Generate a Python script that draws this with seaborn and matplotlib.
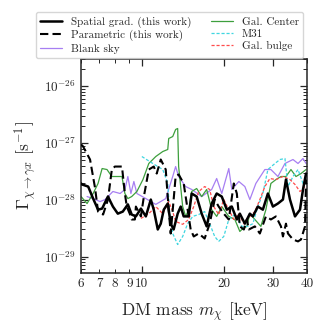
import numpy as np
import pandas as pd
import seaborn as sns
import matplotlib
matplotlib.use("Agg")
import matplotlib.pyplot as plt
from matplotlib.ticker import FixedLocator, FuncFormatter, NullFormatter


sns.set_style("ticks")
plt.rcParams['font.family'] = ['cmr10', 'DejaVu Serif']
plt.rcParams['mathtext.fontset'] = 'cm'
plt.rcParams['axes.formatter.use_mathtext'] = True
plt.rcParams['axes.unicode_minus'] = False

# DM mass [keV] and decay rate in units of 1e-28 s^-1
m_spatial = [6.00, 6.05, 6.37, 6.64, 6.92, 7.16, 7.52, 7.84, 8.17, 8.52, 8.89,
             9.18, 9.51, 9.92, 10.34, 10.78, 11.05, 11.43, 11.72, 12.02, 12.43,
             12.74, 13.06, 13.51, 13.86, 14.21, 14.82, 15.2, 15.85, 16.53,
             17.24, 17.98, 18.75, 19.57, 20.42, 21.29, 22.21, 22.78, 23.76,
             24.78, 25.41, 26.50, 27.64, 28.83, 30.08, 31.37, 32.72, 33.56,
             34.71, 36.21, 37.76, 38.73, 39.72]
g_spatial = [1.94, 1.86, 1.71, 1.05, 0.67, 0.70, 1.14, 0.76, 0.57, 0.62, 0.83,
             0.55, 0.51, 0.70, 0.51, 1.01, 0.67, 0.30, 0.38, 0.67, 0.86, 0.38,
             0.30, 0.57, 0.76, 0.51, 0.51, 1.29, 1.14, 0.57, 0.34, 0.86, 1.29,
             1.14, 0.67, 0.76, 0.45, 0.57, 0.38, 0.57, 0.51, 0.76, 0.67, 1.29,
             0.76, 0.86, 1.01, 2.27, 1.01, 0.51, 0.67, 1.52, 2.90]

m_param = [6.00, 6.10, 6.47, 6.75, 6.92, 7.22, 7.52, 7.77, 7.97, 8.46, 8.67,
           8.81, 9.03, 9.18, 9.43, 9.51, 9.92, 10.17, 10.6, 11.05, 11.33,
           11.72, 12.22, 12.53, 12.74, 13.06, 13.28, 13.62, 14.21, 14.69,
           15.07, 15.46, 16.12, 16.95, 17.68, 18.44, 19.07, 19.90, 20.76,
           21.65, 22.21, 22.78, 23.56, 24.16, 24.57, 25.84, 26.95, 28.35,
           29.57, 30.85, 32.18, 32.72, 33.56, 34.13, 35.6, 37.13, 38.08,
           39.39, 39.72]
g_param = [9.44, 8.71, 5.12, 1.60, 0.62, 0.55, 1.01, 3.41, 3.85, 3.85, 1.29,
           0.76, 0.57, 0.45, 0.45, 0.76, 0.51, 1.14, 3.41, 3.85, 2.90, 5.12,
           3.41, 0.67, 0.255, 1.01, 2.57, 2.79, 1.94, 0.67, 0.30, 0.226,
           0.255, 0.208, 0.38, 1.01, 0.76, 0.57, 0.45, 1.94, 1.29, 0.34, 0.30,
           0.45, 0.30, 0.34, 0.255, 0.51, 0.45, 0.51, 0.34, 0.226, 0.38, 0.255,
           0.20, 0.185, 0.20, 0.34, 2.27]

m_blank = [6.31, 6.64, 7.04, 7.34, 7.84, 8.33, 8.67, 8.89, 9.12, 9.35, 9.59,
           10.34, 11.24, 12.22, 12.96, 13.28, 13.62, 14.45, 15.2, 16.53, 17.98,
           18.75, 19.57, 20.76, 21.29, 22.59, 23.76, 24.78, 26.06, 28.11,
           29.57, 31.37, 33.28, 35.6, 37.13, 38.73, 39.72]
g_blank = [1.14, 1.05, 0.93, 1.01, 1.40, 1.29, 1.52, 2.57, 1.29, 2.10, 1.29,
           1.05, 0.83, 1.05, 2.57, 3.85, 2.57, 1.71, 1.52, 1.14, 1.52, 2.37,
           1.29, 3.55, 1.52, 2.10, 1.71, 1.01, 1.94, 3.41, 3.41, 2.57, 4.36,
           5.12, 4.36, 5.33, 4.36]

m_gc = [6.00, 6.31, 6.64, 6.92, 7.16, 7.46, 7.77, 8.46, 8.67, 8.89, 9.18,
        9.59, 10.09, 10.6, 11.24, 11.92, 12.43, 12.53, 12.96, 13.28, 13.51,
        13.62, 14.09, 14.45, 14.82, 15.2, 15.85, 16.53, 17.24, 17.98, 18.75,
        19.57, 20.76, 21.84, 22.78, 23.17, 24.16, 24.78, 25.84, 27.18, 28.35,
        29.57, 30.85, 32.18, 33.56, 35.0, 36.51, 38.08, 39.72]
g_gc = [1.14, 0.86, 1.29, 1.94, 3.55, 3.41, 2.57, 2.57, 1.29, 1.05, 1.14,
        1.40, 2.27, 4.36, 5.78, 7.08, 7.69, 12.0, 13.0, 17.3, 18.0, 3.85,
        0.76, 0.51, 0.67, 1.40, 1.58, 1.14, 1.52, 0.67, 0.51, 0.76, 0.51,
        0.45, 0.277, 0.30, 0.34, 0.57, 0.45, 0.34, 0.67, 1.94, 2.27, 2.57,
        2.57, 3.41, 2.57, 2.90, 3.41]

m_m31 = [10.0, 10.96, 11.92, 12.43, 12.64, 12.96, 13.51, 14.09, 14.69, 15.33,
         16.12, 16.95, 17.68, 18.44, 19.07, 19.90, 20.76, 21.84, 23.17, 24.37,
         25.41, 26.50, 27.64, 28.83, 30.59, 31.91, 33.28, 34.13, 35.6, 37.13,
         38.73, 39.72]
g_m31 = [5.78, 4.36, 3.41, 1.94, 0.57, 0.255, 0.163, 0.226, 0.38, 0.51, 0.55,
         0.62, 0.38, 0.226, 0.185, 0.226, 0.45, 0.55, 0.34, 0.34, 0.38, 0.76,
         1.29, 3.41, 4.36, 5.12, 5.33, 1.71, 2.57, 3.41, 1.94, 2.27]

m_bulge = [9.92, 10.6, 11.24, 11.92, 12.53, 12.96, 13.28, 14.09, 14.82, 15.46,
           16.12, 16.95, 17.68, 18.29, 19.07, 19.90, 20.76, 21.65, 22.59,
           23.56, 24.78, 25.84, 26.95, 28.11, 29.32, 30.85, 32.72, 34.71,
           36.21, 37.76, 39.39]
g_bulge = [0.47, 0.57, 0.76, 0.57, 0.93, 0.62, 0.415, 0.37, 0.45, 0.76, 1.40,
           1.71, 1.52, 0.76, 0.55, 1.01, 0.67, 0.45, 0.57, 0.38, 0.51, 0.62,
           1.01, 1.71, 2.37, 2.27, 2.57, 2.27, 1.86, 1.40, 1.71]

x_major = [10, 20, 30]
x_minor = [6, 7, 8, 9, 40]
y_major = [1e-29, 1e-28, 1e-27, 1e-26]


def to_df(m, g):
    return pd.DataFrame({"m": m, "gamma": np.array(g) * 1e-28})


fig = plt.figure(figsize=(3.23, 3.34), dpi=100)
ax = fig.add_axes([0.251, 0.1835, 0.699, 0.6395])

sns.lineplot(data=to_df(m_spatial, g_spatial), x="m", y="gamma", ax=ax,
             color="black", lw=1.8, label="Spatial grad. (this work)", zorder=5)
sns.lineplot(data=to_df(m_param, g_param), x="m", y="gamma", ax=ax,
             color="black", lw=1.5, label="Parametric (this work)", zorder=5)
sns.lineplot(data=to_df(m_blank, g_blank), x="m", y="gamma", ax=ax,
             color="#a77ff2", lw=0.9, label="Blank sky")
sns.lineplot(data=to_df(m_gc, g_gc), x="m", y="gamma", ax=ax,
             color="#3d9f3d", lw=0.9, label="Gal. Center")
sns.lineplot(data=to_df(m_m31, g_m31), x="m", y="gamma", ax=ax,
             color="#3fd6e0", lw=0.9, label="M31")
sns.lineplot(data=to_df(m_bulge, g_bulge), x="m", y="gamma", ax=ax,
             color="#ff4b4b", lw=0.9, label="Gal. bulge")

lines = ax.get_lines()
lines[1].set_dashes([4, 2])
lines[4].set_dashes([2.5, 1.5])
lines[5].set_dashes([2.5, 1.5])

ax.set_xscale("log")
ax.set_yscale("log")
ax.set_xlim(6, 40)
ax.set_ylim(5.2e-30, 3e-26)

ax.xaxis.set_major_locator(FixedLocator(x_major))
ax.xaxis.set_minor_locator(FixedLocator(x_minor))
fmt = FuncFormatter(lambda v, p: "%d" % round(v))
ax.xaxis.set_major_formatter(fmt)
ax.xaxis.set_minor_formatter(fmt)
ax.yaxis.set_major_locator(FixedLocator(y_major))
ax.yaxis.set_minor_formatter(NullFormatter())
ax.tick_params(which="both", direction="in", top=True, right=True,
               labelsize=9.5)
ax.tick_params(which="major", length=5, width=0.9)
ax.tick_params(which="minor", length=2.8, width=0.7)
for s in ax.spines.values():
    s.set_linewidth(1.1)

ax.set_xlabel(r"DM mass $m_\chi$ [keV]", fontsize=12.5, labelpad=8)
ax.set_ylabel(r"$\Gamma_{\chi\to\gamma x}\ [\mathrm{s}^{-1}]$", fontsize=12.5,
              labelpad=4)

ax.legend(ncol=2, loc="lower center", bbox_to_anchor=(0.392, 1.0),
          fontsize=8, frameon=True, fancybox=True, handlelength=2.0,
          borderaxespad=0.1, columnspacing=1.7, labelspacing=0.2,
          handletextpad=0.8, edgecolor="#cccccc")

plt.savefig("out.png", dpi=100)
